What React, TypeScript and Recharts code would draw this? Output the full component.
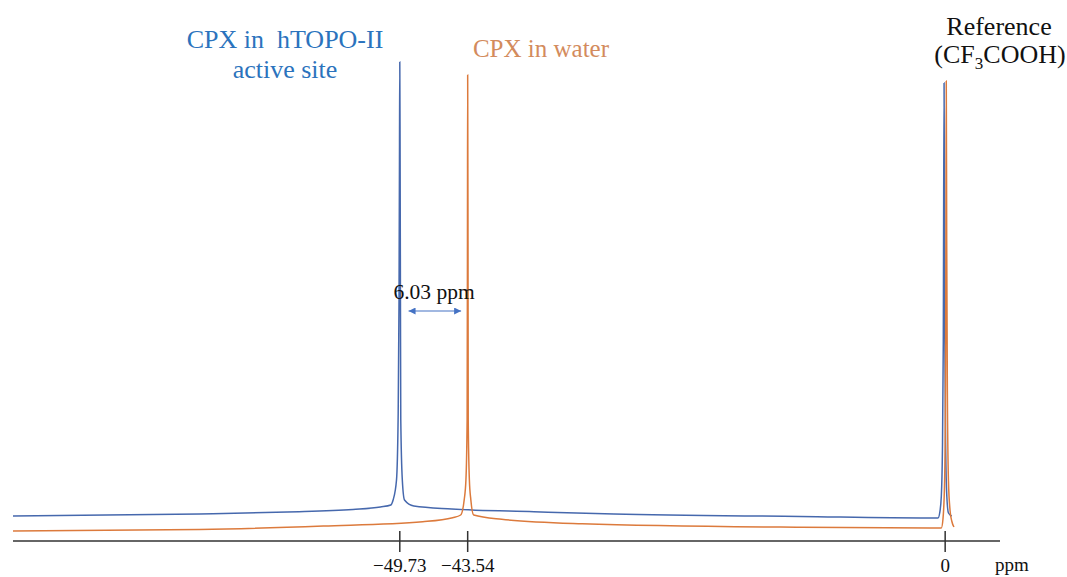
import React from 'react';
import { LineChart, Line, XAxis, YAxis, ReferenceLine } from 'recharts';

// chemical shift (ppm) and intensity
const complexShift = [-85, -68, -60, -54, -51.5, -50.55, -50.34, -50.03, -49.885, -49.8, -49.76, -49.73, -49.7, -49.67, -49.64, -49.5, -49.3, -48.45, -45, -37.5, -30.2, -13.2, -1.5, -0.65, -0.5, -0.35, -0.25, -0.17, -0.1, -0.03, 0.05, 0.15, 0.3, 0.6];
const complexIntensity = [25, 27, 29, 31.5, 34, 36, 41, 61, 121, 241, 380, 479, 380, 241, 121, 61, 41, 35, 32, 29.3, 27, 24.5, 23, 23, 28, 45, 90, 200, 458, 200, 90, 45, 28, 25];

const waterShift = [-85, -68, -56.7, -47.64, -44.91, -44.18, -43.86, -43.7, -43.59, -43.56, -43.54, -43.51, -43.49, -43.385, -43.25, -42.99, -40.44, -33.1, -13.2, -1.4, -0.35, -0.2, -0.05, 0.03, 0.07, 0.1, 0.14, 0.2, 0.3, 0.45, 0.6, 0.8];
const waterIntensity = [10, 11.5, 15, 19.3, 23.3, 26, 41, 61, 121, 300, 466, 300, 121, 61, 41, 26, 21.7, 17.3, 13.7, 13, 13, 22, 60, 150, 300, 460, 300, 150, 60, 30, 20, 14];

const tickValues = [-49.73, -43.54, 0];
const tickLabels = ['\u221249.73', '\u221243.54', '0'];

const complexData = complexShift.map((x, i) => ({ x, y: complexIntensity[i] }));
const waterData = waterShift.map((x, i) => ({ x, y: waterIntensity[i] }));

const serif = '"Liberation Serif", "Times New Roman", serif';

const AxisTick = (props: any) => {
  const { x, y, payload } = props;
  const idx = tickValues.indexOf(payload.value);
  return (
    <g>
      <line x1={x} x2={x} y1={y - 10} y2={y + 11} stroke="#333" strokeWidth={1.5} />
      <text x={x} y={y + 31} textAnchor="middle" fontFamily={serif} fontSize={19} fill="#111">
        {idx >= 0 ? tickLabels[idx] : payload.value}
      </text>
    </g>
  );
};

export default function App() {
  return (
    <div style={{ position: 'absolute', left: 0, top: 0, width: 1067, height: 577, background: '#fff' }}>
      <LineChart width={1067} height={577} margin={{ top: 41, right: 67, bottom: 6, left: 13 }}>
        <XAxis
          type="number"
          dataKey="x"
          domain={[-85, 5]}
          allowDataOverflow
          ticks={tickValues}
          tick={<AxisTick />}
          tickLine={false}
          tickSize={0}
          tickMargin={0}
          height={30}
          axisLine={{ stroke: '#333', strokeWidth: 1.5 }}
        />
        <YAxis type="number" domain={[0, 500]} hide />
        <Line data={complexData} dataKey="y" type="monotone" stroke="#4668ad" strokeWidth={1.5} dot={false} isAnimationActive={false} />
        <Line data={waterData} dataKey="y" type="monotone" stroke="#dc7a3c" strokeWidth={1.5} dot={false} isAnimationActive={false} />
        <ReferenceLine
          segment={[{ x: -48.93, y: 230 }, { x: -44.14, y: 230 }]}
          stroke="#4472c4"
          strokeWidth={1.2}
          markerStart="url(#shiftArrow)"
          markerEnd="url(#shiftArrow)"
        />
      </LineChart>
      <svg width={1067} height={577} style={{ position: 'absolute', left: 0, top: 0, pointerEvents: 'none' }}>
        <defs>
          <marker id="shiftArrow" viewBox="0 0 10 10" refX={10} refY={5} markerWidth={9} markerHeight={7} markerUnits="userSpaceOnUse" orient="auto-start-reverse">
            <path d="M0,0 L10,5 L0,10 z" fill="#4472c4" />
          </marker>
        </defs>
        <g fontFamily={serif}>
          <text x={285} y={48} textAnchor="middle" fontSize={26} fill="#2b73bd" style={{ whiteSpace: 'pre' }}>CPX in  hTOPO-II</text>
          <text x={285} y={78} textAnchor="middle" fontSize={26} fill="#2b73bd">active site</text>
          <text x={541} y={57} textAnchor="middle" fontSize={25} fill="#d38b5d">CPX in water</text>
          <text x={999} y={35} textAnchor="middle" fontSize={26} fill="#111">Reference</text>
          <text x={1000} y={63} textAnchor="middle" fontSize={26} fill="#111">
            <tspan>(CF</tspan>
            <tspan dy={6} fontSize={17}>3</tspan>
            <tspan dy={-6}>COOH)</tspan>
          </text>
          <text x={434} y={299} textAnchor="middle" fontSize={21.5} fill="#111">6.03 ppm</text>
          <text x={995} y={571} fontSize={19} fill="#111">ppm</text>
        </g>
      </svg>
    </div>
  );
}
